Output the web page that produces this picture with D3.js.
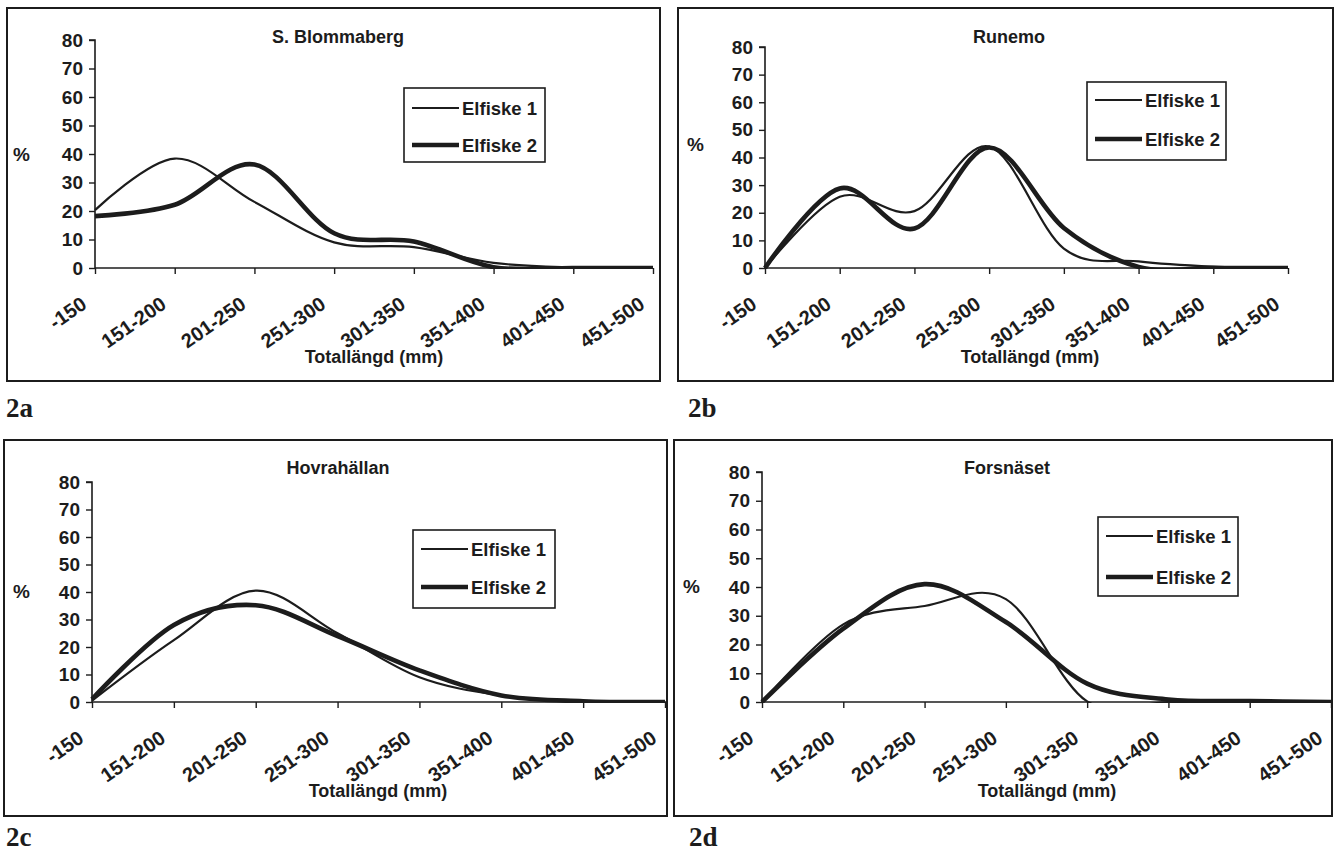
<!DOCTYPE html>
<html><head><meta charset="utf-8">
<script src="https://cdn.jsdelivr.net/npm/d3@7"></script>
<style>
html,body{margin:0;padding:0;background:#fff;}
svg{display:block;}
</style></head>
<body>
<svg id="c" width="1340" height="856"></svg>
<script>
// ---- data ----
const categories = ["-150","151-200","201-250","251-300","301-350","351-400","401-450","451-500"];
const yTicks = [0,10,20,30,40,50,60,70,80];
const seriesNames = ["Elfiske 1","Elfiske 2"];
const panelTitles = ["S. Blommaberg","Runemo","Hovrahällan","Forsnäset"];
const panelLabels = ["2a","2b","2c","2d"];

const blommabergE1 = [20.3, 38.4, 23.2, 9.0, 7.3, 1.8, 0.2, 0];
const blommabergE2 = [18.2, 22.2, 36.3, 12.2, 9.3, 0.3, 0, 0];
const runemoE1 = [0, 25.8, 20.6, 44.0, 7.0, 2.4, 0.5, 0];
const runemoE2 = [0, 28.8, 14.3, 43.6, 14.5, 0.4, 0, 0];
const hovrahallanE1 = [0.5, 22.5, 40.5, 25.0, 9.0, 2.4, 0.3, 0];
const hovrahallanE2 = [1.0, 28.0, 35.2, 24.0, 11.5, 2.4, 0.3, 0];
const forsnasetE1 = [0, 27.0, 33.4, 35.8, 0.2, 0, 0, 0];
const forsnasetE2 = [0, 25.5, 41.0, 27.8, 6.4, 0.9, 0.3, 0];

const panelData = [
  [blommabergE1, blommabergE2],
  [runemoE1, runemoE2],
  [hovrahallanE1, hovrahallanE2],
  [forsnasetE1, forsnasetE2]
];

// ---- layout (positions, not data) ----
const layouts = [
  {box:[7,8,660,381], x0:95, xN:653, y0:268, yTop:40, axisEnd:653, title:[338,43], pct:[13,161], leg:[404,88,545,162], legY:[108,145], xt:[374,363], lab:[6,417]},
  {box:[678,8,1333,381], x0:765, xN:1288, y0:268, yTop:47, axisEnd:1288, title:[1009,43], pct:[687,151], leg:[1087,82,1226,160], legY:[100,139], xt:[1030,363], lab:[688,417]},
  {box:[4,440,667,816], x0:92, xN:665, y0:702, yTop:482, axisEnd:667, title:[338,474], pct:[13,598], leg:[413,530,555,608], legY:[549,587], xt:[378,797], lab:[6,846]},
  {box:[674,440,1332,816], x0:762, xN:1331, y0:702, yTop:472, axisEnd:1331, title:[1007,474], pct:[683,593], leg:[1098,517,1238,596], legY:[536,577], xt:[1047,797], lab:[689,846]}
];
const strokeW = [2.2, 4.6];
const ink = "#1c1c1c";
const sans = '"Liberation Sans",Arial,sans-serif';
const serif = '"Liberation Serif","Times New Roman",serif';

const svg = d3.select("#c");

function txt(sel, size, weight) {
  return sel.style("font-family", sans).style("font-size", size + "px")
    .style("font-weight", weight || "bold").style("fill", ink);
}

layouts.forEach((L, i) => {
  const g = svg.append("g");
  g.append("rect").attr("x", L.box[0]).attr("y", L.box[1])
    .attr("width", L.box[2]-L.box[0]).attr("height", L.box[3]-L.box[1])
    .attr("fill","none").attr("stroke", ink).attr("stroke-width", 2);

  const x = d3.scalePoint().domain(categories).range([L.x0, L.xN]);
  const y = d3.scaleLinear().domain([0,80]).range([L.y0, L.yTop]);

  // y axis
  const ya = g.append("g").attr("transform", `translate(${L.x0},0)`)
    .call(d3.axisLeft(y).tickValues(yTicks).tickSize(6).tickPadding(6).tickFormat(d3.format("d")));
  ya.select(".domain").attr("stroke", ink).attr("stroke-width", 1.6).attr("d", `M-6,${L.yTop}H0V${L.y0}`);
  ya.selectAll(".tick line").attr("stroke", ink).attr("stroke-width", 1.4);
  txt(ya.selectAll(".tick text"), 19);

  // x axis
  const xa = g.append("g").attr("transform", `translate(0,${L.y0})`)
    .call(d3.axisBottom(x).tickSize(6).tickFormat(""));
  xa.select(".domain").attr("stroke", ink).attr("stroke-width", 1.6).attr("d", `M${L.x0},0H${L.axisEnd}`);
  xa.selectAll(".tick line").attr("stroke", ink).attr("stroke-width", 1.4);
  txt(g.selectAll("text.cat").data(categories).join("text").attr("class","cat")
    .attr("transform", d => `translate(${x(d)-7},${L.y0+39}) rotate(-35)`)
    .attr("text-anchor","end").text(d => d), 20);

  // clip so smoothed lines stay above the zero line
  const clipId = "clip"+i;
  svg.append("clipPath").attr("id", clipId).append("rect")
    .attr("x", L.x0-4).attr("y", L.yTop-20).attr("width", L.xN-L.x0+8).attr("height", L.y0-L.yTop+21);

  const line = d3.line().x((d,j) => x(categories[j])).y(d => y(d)).curve(d3.curveCardinal.tension(0));
  panelData[i].forEach((vals, s) => {
    g.append("path").datum(vals).attr("d", line).attr("fill","none")
      .attr("stroke", ink).attr("stroke-width", strokeW[s]).attr("stroke-linejoin","round")
      .attr("clip-path", `url(#${clipId})`);
  });

  txt(g.append("text").attr("x", L.title[0]).attr("y", L.title[1]).attr("text-anchor","middle")
    .text(panelTitles[i]), 18);
  txt(g.append("text").attr("x", L.pct[0]).attr("y", L.pct[1]).text("%"), 19);
  txt(g.append("text").attr("x", L.xt[0]).attr("y", L.xt[1]).attr("text-anchor","middle")
    .text("Totallängd (mm)"), 18);

  // legend
  const lb = L.leg;
  g.append("rect").attr("x", lb[0]).attr("y", lb[1]).attr("width", lb[2]-lb[0]).attr("height", lb[3]-lb[1])
    .attr("fill","#fff").attr("stroke", ink).attr("stroke-width", 1.6);
  seriesNames.forEach((nm, s) => {
    g.append("line").attr("x1", lb[0]+8).attr("x2", lb[0]+55).attr("y1", L.legY[s]).attr("y2", L.legY[s])
      .attr("stroke", ink).attr("stroke-width", strokeW[s]);
    txt(g.append("text").attr("x", lb[0]+58).attr("y", L.legY[s]).attr("dy","0.36em").text(nm), 18.5);
  });

  g.append("text").attr("x", L.lab[0]).attr("y", L.lab[1]).text(panelLabels[i])
    .style("font-family", serif).style("font-size", "27px").style("font-weight", "bold").style("fill", ink);
});
</script>
</body></html>
